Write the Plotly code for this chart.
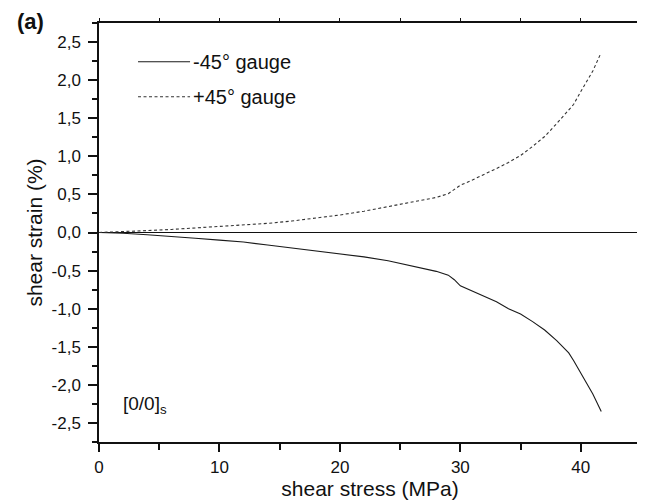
import plotly.graph_objects as go

# -45° gauge (solid)
stress_neg = [0, 2, 4, 6, 8, 10, 12, 14, 16, 18, 20, 22, 24, 26, 28, 29, 29.5, 30, 31, 32,
              33, 34, 35, 36, 37, 38, 39, 39.4, 40, 41, 41.7]
strain_neg = [0, -0.01, -0.03, -0.05, -0.075, -0.10, -0.125, -0.165, -0.205, -0.245, -0.28, -0.32,
              -0.37, -0.44, -0.51, -0.56, -0.62, -0.70, -0.77, -0.83, -0.91, -1.0, -1.07, -1.17,
              -1.28, -1.42, -1.58, -1.68, -1.85, -2.12, -2.35]
# +45° gauge (dashed)
stress_pos = [0, 2, 4, 6, 8, 10, 12, 14, 16, 18, 20, 22, 24, 26, 28, 29, 29.5, 30, 31, 32,
              33, 34, 35, 36, 37, 38, 39, 39.4, 40, 41, 41.6]
strain_pos = [0, 0.01, 0.025, 0.04, 0.06, 0.075, 0.095, 0.12, 0.15, 0.19, 0.23, 0.28, 0.34,
              0.40, 0.46, 0.51, 0.57, 0.62, 0.69, 0.76, 0.84, 0.92, 1.01, 1.13, 1.26, 1.43,
              1.60, 1.68, 1.85, 2.12, 2.33]

x_tickvals = [0, 10, 20, 30, 40]
x_ticktext = ["0", "10", "20", "30", "40"]
y_tickvals = [2.5, 2.0, 1.5, 1.0, 0.5, 0.0, -0.5, -1.0, -1.5, -2.0, -2.5]
y_ticktext = ["2,5", "2,0", "1,5", "1,0", "0,5", "0,0", "-0,5", "-1,0", "-1,5", "-2,0", "-2,5"]

legend_names = ["-45° gauge", "+45° gauge"]

FONT = "Liberation Sans, Arial, sans-serif"

fig = go.Figure()
fig.add_trace(go.Scatter(x=stress_neg, y=strain_neg, mode="lines", name=legend_names[0],
                         line=dict(color="#1a1a1a", width=1.1), showlegend=False))
fig.add_trace(go.Scatter(x=stress_pos, y=strain_pos, mode="lines", name=legend_names[1],
                         line=dict(color="#333333", width=1.1, dash="3px,2.5px"), showlegend=False))

# custom legend (line samples + text)
leg_rows = [(0.9076, "solid", "#1a1a1a"), (0.824, "3px,2.5px", "#333333")]
for (yp, dash, col), name in zip(leg_rows, legend_names):
    fig.add_shape(type="line", xref="paper", yref="paper", x0=0.072, x1=0.168, y0=yp, y1=yp,
                  line=dict(color=col, width=1.1, dash=dash))
    fig.add_annotation(text=name, xref="paper", yref="paper", x=0.171, y=yp, xanchor="left",
                       yanchor="middle", showarrow=False, borderpad=0,
                       font=dict(size=20, color="#111", family=FONT))

fig.add_annotation(text="[0/0]<sub>s</sub>", xref="paper", yref="paper", x=0.042, y=0.088,
                   xanchor="left", yanchor="middle", showarrow=False, borderpad=0,
                   font=dict(size=19, color="#111", family=FONT))
fig.add_annotation(text="<b>(a)</b>", xref="paper", yref="paper", x=-0.153, y=1.004,
                   xanchor="left", yanchor="middle", showarrow=False, borderpad=0,
                   font=dict(size=22, color="#111", family=FONT))

axis_common = dict(showgrid=False, linecolor="#111", linewidth=1.5, tickcolor="#111",
                   tickwidth=1.5, tickfont=dict(size=17, color="#111", family=FONT))

fig.update_layout(
    width=637, height=494,
    margin=dict(l=91, r=4, t=15, b=60),
    paper_bgcolor="white", plot_bgcolor="white",
    font=dict(family=FONT, color="#111"),
    xaxis=dict(range=[0, 45], tickvals=x_tickvals, ticktext=x_ticktext, ticks="outside", ticklen=8,
               mirror=True, showline=True, zeroline=False, automargin=False, ticklabelstandoff=1,
               minor=dict(dtick=5, tick0=0, ticks="outside", ticklen=6, tickcolor="#111", tickwidth=1.5),
               title=dict(text="shear stress (MPa)", font=dict(size=21, family=FONT, color="#111"),
                          standoff=3),
               **axis_common),
    yaxis=dict(range=[-2.75, 2.75], tickvals=y_tickvals, ticktext=y_ticktext, ticks="outside", ticklen=9,
               mirror=True, showline=True, zeroline=True, zerolinecolor="#111", zerolinewidth=1.3,
               automargin=False, ticklabelstandoff=4,
               minor=dict(dtick=0.25, tick0=0, ticks="outside", ticklen=5, tickcolor="#111", tickwidth=1.5),
               title=dict(text="shear strain (%)", font=dict(size=21, family=FONT, color="#111"),
                          standoff=3),
               **axis_common),
    xaxis2=dict(overlaying="x", side="top", range=[0, 45], dtick=5, tick0=0, ticks="outside",
                ticklen=4, tickcolor="#111", tickwidth=1.2, showticklabels=False, showgrid=False,
                showline=False, zeroline=False),
    yaxis2=dict(overlaying="y", side="right", range=[-2.75, 2.75], dtick=0.25, tick0=0, ticks="inside",
                ticklen=4, tickcolor="#111", tickwidth=1.2, showticklabels=False, showgrid=False,
                showline=False, zeroline=False),
)
fig.add_trace(go.Scatter(x=[], y=[], xaxis="x2", yaxis="y2", showlegend=False, hoverinfo="skip"))

fig.write_html("out.html")
